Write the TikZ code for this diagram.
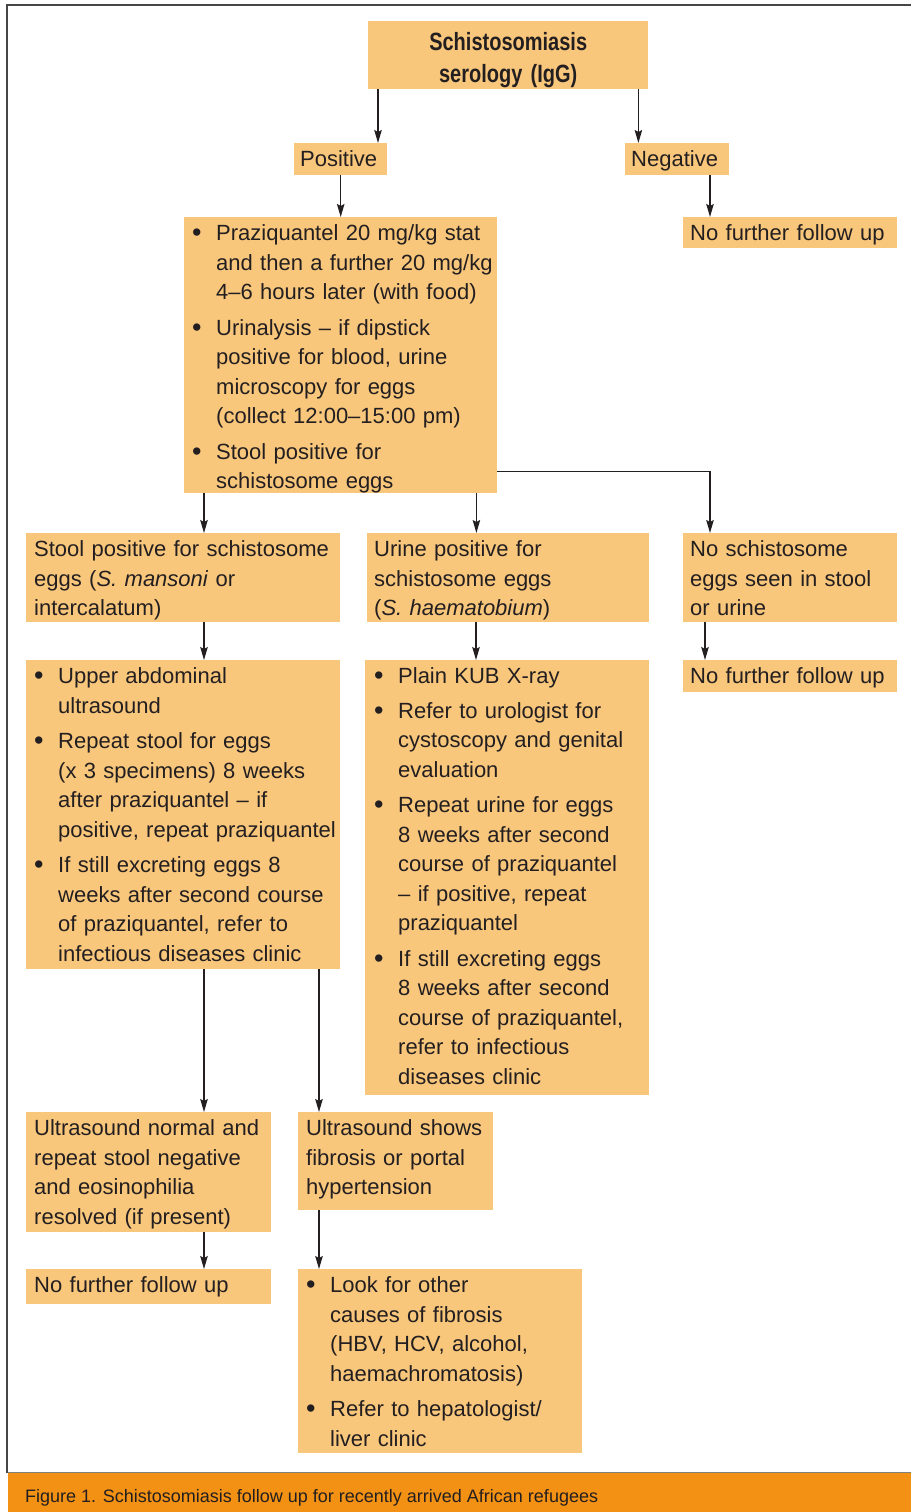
\documentclass[tikz,border=0pt]{standalone}
\usepackage{fontspec}
\setmainfont{Liberation Sans}
\newfontfamily\titlefont[FakeStretch=0.8]{Liberation Sans Bold}
\usepackage{xcolor}
\usetikzlibrary{arrows.meta}

\definecolor{boxfill}{RGB}{249,199,124}
\definecolor{capbar}{RGB}{243,145,20}
\definecolor{framecol}{RGB}{70,70,70}
\definecolor{inkcol}{RGB}{35,31,32}

\newcommand{\bodysize}{\fontsize{22}{29.5}\selectfont}
\newcommand{\bul}[1]{\noindent\hbox to 24pt{\raisebox{-1pt}{\fontsize{27}{29.5}\selectfont\textbullet}\hfil}\begin{tabular}[t]{@{}l@{}}#1\end{tabular}\par}
\newcommand{\gap}{\vspace{5pt}}

\tikzset{
  box/.style={fill=boxfill, anchor=north west, inner xsep=8pt, inner ysep=3pt,
    text height=20.5pt, text depth=#1, align=left, font=\bodysize, text=inkcol},
  arr/.style={-{Stealth[length=13pt,width=7.5pt,inset=2pt]}, line width=1.3pt, draw=inkcol}
}

\begin{document}
\begin{tikzpicture}[x=1pt, y=-1pt]
        \useasboundingbox (0,0) rectangle (911,1512);

        % frame and caption
        \draw[framecol, line width=2pt] (7,1473) -- (7,5) -- (911,5);
        \fill[capbar] (8,1473) rectangle (911,1512);
        \draw[gray, line width=1.2pt] (8,1472.5) -- (911,1472.5);
        \node[anchor=base west, inner sep=0pt, font=\fontsize{18}{21}\selectfont, text=inkcol] (cap) at (25,1502.7)
            {Figure 1. Schistosomiasis follow up for recently arrived African refugees};

        \node[box=36pt, align=center, text height=26pt, text width=264pt, font=\titlefont\fontsize{25}{32}\selectfont] (title) at (368,21)
            {Schistosomiasis\\serology (IgG)};
        \node[box=5.5pt, inner xsep=6pt, text width=81pt] (pos) at (294,143) {Positive};
        \node[box=5.5pt, inner xsep=6pt, text width=92pt] (neg) at (625,143) {Negative};
        \node[box=4.5pt, inner xsep=7pt, text width=200pt] (nf1) at (683,217) {No further follow up};

        \node[box=249.5pt, text width=297pt] (praz) at (184,217)
            {\bul{Praziquantel 20 mg/kg stat\\and then a further 20 mg/kg\\4--6 hours later (with food)}\gap
             \bul{Urinalysis -- if dipstick\\positive for blood, urine\\microscopy for eggs\\(collect 12:00--15:00 pm)}\gap
             \bul{Stool positive for\\schistosome eggs}};

        \node[box=62.5pt, text width=298pt] (stool) at (26,533)
            {Stool positive for schistosome\\eggs (\textit{S. mansoni} or\\intercalatum)};
        \node[box=62.5pt, inner xsep=7pt, text width=268pt] (urine) at (367,533)
            {Urine positive for\\schistosome eggs\\(\textit{S. haematobium})};
        \node[box=62.5pt, inner xsep=7pt, text width=200pt] (nosch) at (683,533)
            {No schistosome\\eggs seen in stool\\or urine};
        \node[box=5.5pt, inner xsep=7pt, text width=200pt] (nf2) at (683,660) {No further follow up};

        \node[box=282.5pt, text width=298pt] (lbul) at (26,660)
            {\bul{Upper abdominal\\ultrasound}\gap
             \bul{Repeat stool for eggs\\(x 3 specimens) 8 weeks\\after praziquantel -- if\\positive, repeat praziquantel}\gap
             \bul{If still excreting eggs 8\\weeks after second course\\of praziquantel, refer to\\infectious diseases clinic}};
        \node[box=408.5pt, inner xsep=9pt, text width=266pt] (mbul) at (365,660)
            {\bul{Plain KUB X-ray}\gap
             \bul{Refer to urologist for\\cystoscopy and genital\\evaluation}\gap
             \bul{Repeat urine for eggs\\8 weeks after second\\course of praziquantel\\-- if positive, repeat\\praziquantel}\gap
             \bul{If still excreting eggs\\8 weeks after second\\course of praziquantel,\\refer to infectious\\diseases clinic}};

        \node[box=93.5pt, text width=229pt] (usn) at (26,1112)
            {Ultrasound normal and\\repeat stool negative\\and eosinophilia\\resolved (if present)};
        \node[box=71.5pt, text width=179pt] (uss) at (298,1112)
            {Ultrasound shows\\fibrosis or portal\\hypertension};
        \node[box=8.5pt, text width=229pt] (nf3) at (26,1269) {No further follow up};
        \node[box=157.5pt, text width=268pt] (look) at (298,1269)
            {\bul{Look for other\\causes of fibrosis\\(HBV, HCV, alcohol,\\haemachromatosis)}\gap
             \bul{Refer to hepatologist/\\liver clinic}};

        % connectors
        \draw[arr] ([xshift=10pt]title.south west) -- ([xshift=10pt]title.south west |- pos.north);
        \draw[arr] ([xshift=-10pt]title.south east) -- ([xshift=-10pt]title.south east |- neg.north);
        \draw[arr] (pos.south) -- (pos.south |- praz.north);
        \draw[arr] ([xshift=27pt]nf1.north west |- neg.south) -- ([xshift=27pt]nf1.north west);
        \draw[arr] ([xshift=20pt]praz.south west) -- ([xshift=20pt]praz.south west |- stool.north);
        \draw[arr] ([xshift=-21pt]praz.south east) -- ([xshift=-21pt]praz.south east |- urine.north);
        \draw[arr] ([yshift=22pt]praz.south east) -| ([xshift=27pt]nosch.north west);
        \draw[arr] ([xshift=178pt]stool.south west) -- ([xshift=178pt]lbul.north west);
        \draw[arr] ([xshift=109pt]urine.south west) -- ([xshift=109pt]urine.south west |- mbul.north);
        \draw[arr] ([xshift=22pt]nosch.south west) -- ([xshift=22pt]nosch.south west |- nf2.north);
        \draw[arr] ([xshift=178pt]lbul.south west) -- ([xshift=178pt]usn.north west);
        \draw[arr] ([xshift=21pt]uss.north west |- lbul.south) -- ([xshift=21pt]uss.north west);
        \draw[arr] ([xshift=178pt]usn.south west) -- ([xshift=178pt]nf3.north west);
        \draw[arr] ([xshift=21pt]uss.south west) -- ([xshift=21pt]look.north west);
    \end{tikzpicture}
\end{document}
